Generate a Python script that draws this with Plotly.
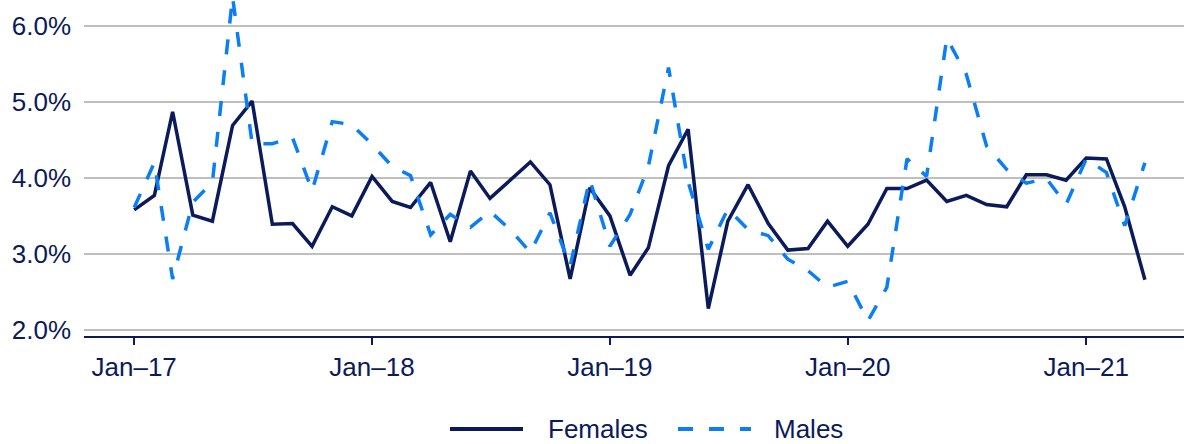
import pandas as pd
import plotly.graph_objects as go

months = pd.date_range("2017-01-01", periods=52, freq="MS")

females = [3.58, 3.77, 4.87, 3.51, 3.43, 4.69, 5.01, 3.39, 3.40, 3.10, 3.62, 3.50,
           4.02, 3.69, 3.61, 3.94, 3.16, 4.09, 3.73, 3.97, 4.21, 3.91, 2.67, 3.87,
           3.50, 2.72, 3.08, 4.16, 4.64, 2.28, 3.43, 3.91, 3.40, 3.05, 3.07, 3.43,
           3.10, 3.39, 3.86, 3.86, 3.97, 3.69, 3.77, 3.65, 3.62, 4.04, 4.04, 3.97,
           4.26, 4.25, 3.62, 2.66]

males = [3.61, 4.20, 2.67, 3.68, 3.94, 6.38, 4.45, 4.45, 4.53, 3.83, 4.74, 4.70,
         4.44, 4.15, 4.03, 3.25, 3.52, 3.35, 3.56, 3.32, 3.02, 3.54, 2.84, 3.98,
         3.10, 3.52, 4.15, 5.45, 3.95, 3.06, 3.59, 3.32, 3.24, 2.93, 2.78, 2.56,
         2.64, 2.12, 2.56, 4.25, 4.02, 5.84, 5.36, 4.42, 4.11, 3.93, 3.99, 3.65,
         4.25, 4.07, 3.37, 4.20]

series_names = ["Females", "Males"]
y_tickvals = [2, 3, 4, 5, 6]
y_ticktext = ["2.0%", "3.0%", "4.0%", "5.0%", "6.0%"]

NAVY = "#0b1a5a"
BLUE = "#0a7ef5"
FONT = "Arial, Liberation Sans, sans-serif"
DASH = "15px,16px"

W, H = 1184, 444
ML, MR, MT, MB = 84, 0, 0, 108
PW, PH = W - ML - MR, H - MT - MB


def px_x(p):
    return (p - ML) / PW


def px_y(p):
    return (H - MB - p) / PH


fig = go.Figure()
fig.add_trace(go.Scatter(x=months, y=females, name=series_names[0], mode="lines",
                         line=dict(color=NAVY, width=3.5), showlegend=False))
fig.add_trace(go.Scatter(x=months, y=males, name=series_names[1], mode="lines",
                         line=dict(color=BLUE, width=3.5, dash=DASH), showlegend=False))

# legend drawn below the plot (long line samples as in the original)
legend_y = px_y(429)
legend_items = [
    (series_names[0], NAVY, "solid", 450, 523, 547),
    (series_names[1], BLUE, DASH, 678, 751, 773),
]
for name, color, dash, x0, x1, xt in legend_items:
    fig.add_shape(type="line", xref="paper", yref="paper",
                  x0=px_x(x0), x1=px_x(x1), y0=legend_y, y1=legend_y,
                  line=dict(color=color, width=4, dash=dash))
    fig.add_annotation(xref="paper", yref="paper", x=px_x(xt), y=legend_y,
                       xanchor="left", yanchor="middle", text=name, showarrow=False,
                       font=dict(family=FONT, size=26, color=NAVY), borderpad=0)

fig.update_layout(
    width=W, height=H,
    margin=dict(l=ML, r=MR, t=MT, b=MB, autoexpand=False),
    paper_bgcolor="white", plot_bgcolor="white",
    font=dict(family=FONT, size=26, color=NAVY),
    showlegend=False,
    xaxis=dict(
        range=["2016-10-16", "2021-05-31"],
        tick0="2017-01-01", dtick="M12", tickformat="%b–%y",
        showgrid=False, showline=True, linecolor=NAVY, linewidth=2,
        ticks="outside", ticklen=7, tickwidth=1.5, tickcolor=NAVY,
        tickfont=dict(size=26, color=NAVY),
    ),
    yaxis=dict(
        range=[1.92, 6.34], tickmode="array", tickvals=y_tickvals, ticktext=y_ticktext,
        showgrid=True, gridcolor="#bfbfbf", gridwidth=1.5,
        showline=False, zeroline=False, ticks="",
        ticklabelstandoff=12,
        tickfont=dict(size=26, color=NAVY),
    ),
)

fig.write_html("out.html", config={"displayModeBar": False},
               post_script="document.body.style.margin='0px';document.body.style.overflow='hidden';")
